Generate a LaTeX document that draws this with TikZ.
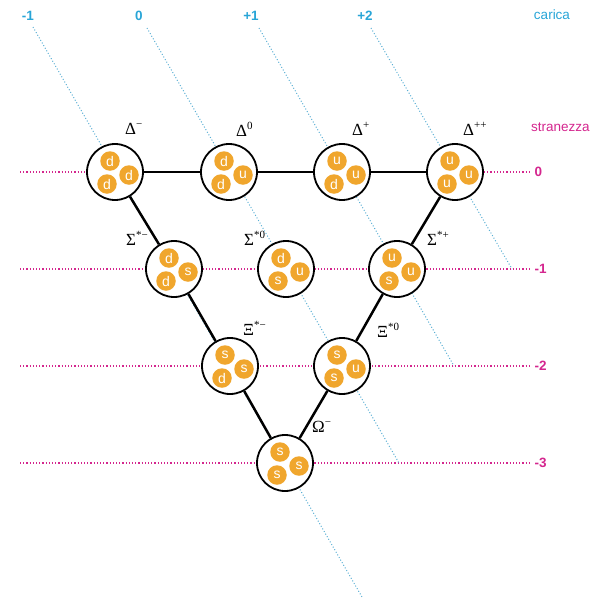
\documentclass[tikz,border=0pt]{standalone}
\usepackage{fontspec}
\setmainfont{Liberation Sans}
\newfontfamily\grfont{Liberation Serif}
\definecolor{quarkcol}{RGB}{240,166,45}
\definecolor{chgcol}{RGB}{40,165,215}
\definecolor{chglinecol}{RGB}{90,175,212}
\definecolor{strcol}{RGB}{212,38,142}
\tikzset{
  hadron/.style={circle, draw=black, line width=1.8pt, fill=white, minimum size=56pt, inner sep=0pt},
  quarkc/.style={circle, fill=quarkcol, minimum size=19.5pt, inner sep=0pt, text=white, font=\fontsize{14}{14}\selectfont},
  edgeline/.style={line width=2.5pt, black},
  strline/.style={strcol, line width=1.2pt, dotted},
  chgline/.style={chglinecol, line width=1pt, dotted},
  chglab/.style={chgcol, font=\bfseries\fontsize{13.5}{15}\selectfont},
  strlab/.style={strcol, font=\bfseries\fontsize{13.5}{15}\selectfont, anchor=west},
  plab/.style={font=\grfont\fontsize{17}{19}\selectfont, inner sep=0pt}
}
\newcommand\sups[1]{\raisebox{0.42em}{\fontsize{11}{11}\selectfont #1}}
\newcommand\mkhadron[6]{%
  \node[hadron] (#1) at (#2) {};
  \node[quarkc] (#1a) at ([shift={(-5,-11)}]#1.center) {#3};
  \node[quarkc] (#1b) at ([shift={(14,3)}]#1.center) {#4};
  \node[quarkc] (#1c) at ([shift={(-8,12)}]#1.center) {#5};
}
\begin{document}
\begin{tikzpicture}[x=1pt,y=-1pt]
\useasboundingbox (0,0) rectangle (600,600);
% positions
\coordinate (pDm) at (115,172);
\coordinate (pDz) at (229,172);
\coordinate (pDp) at (342,172);
\coordinate (pDpp) at (455,172);
\coordinate (pSm) at (174,269);
\coordinate (pSz) at (286,269);
\coordinate (pSp) at (397,269);
\coordinate (pXm) at (230,366);
\coordinate (pXz) at (342,366);
\coordinate (pOm) at (285,463);
% strangeness lines
\foreach \y/\lab [count=\i] in {172/0,269/-1,366/-2,463/-3}{
  \coordinate (sl\i) at (20,\y);
  \coordinate (sr\i) at (529,\y);
  \draw[strline] (sl\i) -- (sr\i);
  \node[strlab] (slab\i) at (531,\y) {\lab};
}
% charge lines
\coordinate (c1a) at (33,27);  \coordinate (c1b) at (362,597);
\coordinate (c2a) at (147,28); \coordinate (c2b) at (399,463);
\coordinate (c3a) at (259,28); \coordinate (c3b) at (454,366);
\coordinate (c4a) at (371,28); \coordinate (c4b) at (512,269);
\draw[chgline] (c1a) -- (c1b);
\draw[chgline] (c2a) -- (c2b);
\draw[chgline] (c3a) -- (c3b);
\draw[chgline] (c4a) -- (c4b);
\node[chglab] (q1) at (28,16) {-1};
\node[chglab] (q2) at (139,16) {0};
\node[chglab] (q3) at (251,16) {+1};
\node[chglab] (q4) at (365,16) {+2};
\node[chgcol, font=\fontsize{13.5}{15}\selectfont] (carica) at (552,15) {carica};
\node[strcol, font=\fontsize{13.5}{15}\selectfont, anchor=west, inner sep=0pt] (stranezza) at (531,127) {stranezza};
% hadrons
\mkhadron{Dm}{pDm}{d}{d}{d}{}
\mkhadron{Dz}{pDz}{d}{u}{d}{}
\mkhadron{Dp}{pDp}{u}{u}{d}{}
\mkhadron{Dpp}{pDpp}{u}{u}{u}{}
\mkhadron{Sm}{pSm}{d}{s}{d}{}
\mkhadron{Sz}{pSz}{d}{u}{s}{}
\mkhadron{Sp}{pSp}{u}{u}{s}{}
\mkhadron{Xm}{pXm}{s}{s}{d}{}
\mkhadron{Xz}{pXz}{s}{u}{s}{}
\mkhadron{Om}{pOm}{s}{s}{s}{}
% edges
\draw[edgeline] (Dm) -- (Dz);
\draw[edgeline] (Dz) -- (Dp);
\draw[edgeline] (Dp) -- (Dpp);
\draw[edgeline] (Dm) -- (Sm);
\draw[edgeline] (Sm) -- (Xm);
\draw[edgeline] (Xm) -- (Om);
\draw[edgeline] (Dpp) -- (Sp);
\draw[edgeline] (Sp) -- (Xz);
\draw[edgeline] (Xz) -- (Om);
% particle labels
\node[plab, anchor=west] (lDm) at (125,129) {Δ\sups{−}};
\node[plab, anchor=west] (lDz) at (236,129) {Δ\sups{0}};
\node[plab, anchor=west] (lDp) at (352,129) {Δ\sups{+}};
\node[plab, anchor=west] (lDpp) at (463,129) {Δ\sups{++}};
\node[plab, anchor=east] (lSm) at (148,238) {Σ\sups{*−}};
\node[plab, anchor=west] (lSz) at (244,238) {Σ\sups{*0}};
\node[plab, anchor=west] (lSp) at (427,238) {Σ\sups{*+}};
\node[plab, anchor=west] (lXm) at (243,328) {Ξ\sups{*−}};
\node[plab, anchor=west] (lXz) at (377,330) {Ξ\sups{*0}};
\node[plab, anchor=west] (lOm) at (312,427) {Ω\sups{−}};
\end{tikzpicture}
\end{document}
